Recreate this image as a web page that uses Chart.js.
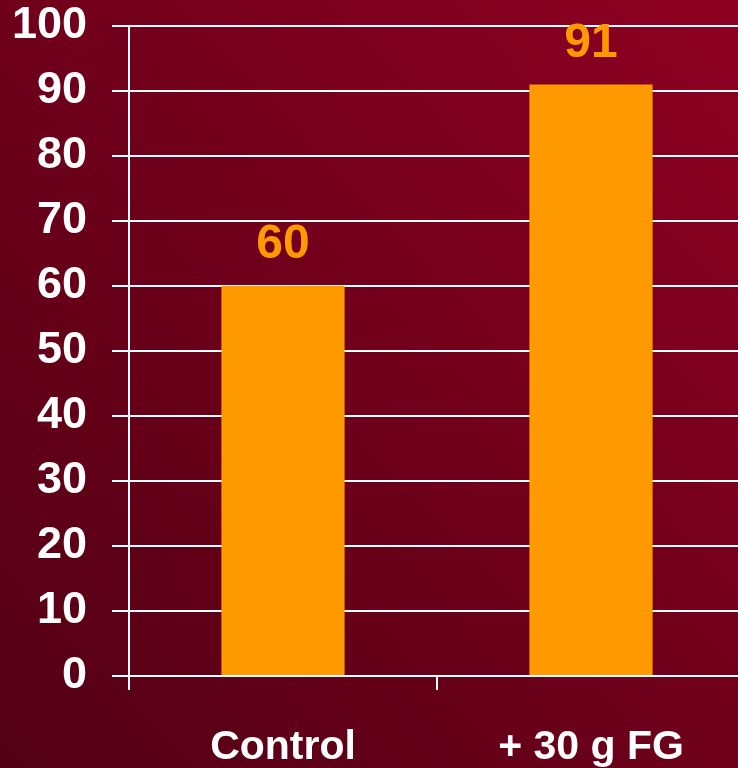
<!DOCTYPE html>
<html>
<head>
<meta charset="utf-8">
<script src="https://cdn.jsdelivr.net/npm/chart.js@4"></script>
<style>
  html, body {
    margin: 0;
    padding: 0;
    overflow: hidden;
    width: 738px;
    height: 768px;
  }
  body {
    background: linear-gradient(to top right, #520015 0%, #6c001a 45%, #8e0022 100%);
  }
  canvas {
    display: block;
  }
</style>
</head>
<body>
<canvas id="chart" width="750" height="768"></canvas>
<script>
const categories = ["Control", "+ 30 g FG"];
const values = [60, 91];
const yMin = 0;
const yMax = 100;
const yStep = 10;

const fontFamily = "'Liberation Sans', Arial, sans-serif";
const orange = "#ff9900";

// Numbers above each bar
const valueLabels = {
  id: "valueLabels",
  afterDatasetsDraw(chart) {
    const ctx = chart.ctx;
    const meta = chart.getDatasetMeta(0);
    ctx.save();
    ctx.font = "bold 48px " + fontFamily;
    ctx.fillStyle = orange;
    ctx.textAlign = "center";
    ctx.textBaseline = "alphabetic";
    meta.data.forEach((bar, i) => {
      ctx.fillText(values[i], bar.x, bar.y - 28);
    });
    ctx.restore();
  }
};

new Chart(document.getElementById("chart"), {
  type: "bar",
  data: {
    labels: categories,
    datasets: [{
      data: values,
      backgroundColor: orange,
      borderWidth: 0,
      categoryPercentage: 1,
      barPercentage: 0.4
    }]
  },
  options: {
    responsive: false,
    animation: false,
    layout: {
      padding: { top: 26, right: 5, bottom: 0, left: 0 }
    },
    plugins: {
      legend: { display: false },
      tooltip: { enabled: false }
    },
    scales: {
      x: {
        afterFit: (scale) => {
          scale.height = 92;
          scale.paddingLeft = 0;
          scale.paddingRight = 0;
        },
        border: { display: false },
        grid: {
          drawOnChartArea: false,
          drawTicks: true,
          tickLength: 14,
          color: "#ffffff",
          lineWidth: 2
        },
        ticks: {
          color: "#ffffff",
          padding: 33,
          font: { family: fontFamily, size: 41, weight: "bold" }
        }
      },
      y: {
        min: yMin,
        max: yMax,
        afterFit: (scale) => {
          scale.width = 129;
          scale.paddingTop = 0;
          scale.paddingBottom = 0;
        },
        border: { display: true, color: "#ffffff", width: 2 },
        grid: {
          color: "#ffffff",
          lineWidth: 2,
          tickLength: 17
        },
        ticks: {
          stepSize: yStep,
          color: "#ffffff",
          padding: 25,
          font: { family: fontFamily, size: 45, weight: "bold" }
        }
      }
    }
  },
  plugins: [valueLabels]
});
</script>
</body>
</html>
